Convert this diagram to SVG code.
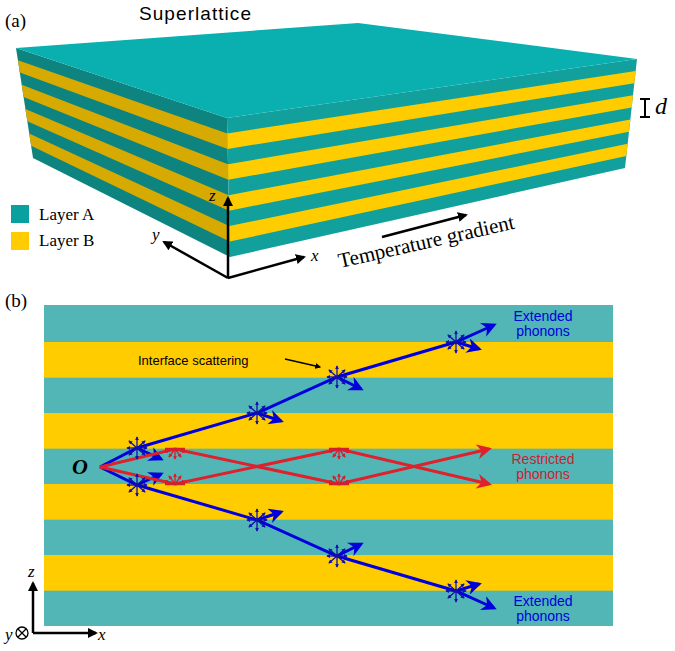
<svg xmlns="http://www.w3.org/2000/svg" width="675" height="651" viewBox="0 0 675 651">
<style>
.tm{font-family:"Liberation Serif",serif;fill:#000}
.ar{font-family:"Liberation Sans",Arial,sans-serif}
.ax{stroke:#000;stroke-width:2.5;fill:none}
.bl{stroke:#0000DD;stroke-width:3;fill:none}
.rd{stroke:#E0202A;stroke-width:3;fill:none}
.sb{stroke:#1010AA;stroke-width:1.3;marker-end:url(#sbh)}
.sr{stroke:#D02030;stroke-width:1.3;marker-end:url(#srh)}
</style>
<defs>
<marker id="ah" viewBox="0 0 10 10" refX="8" refY="5" markerWidth="4" markerHeight="4" orient="auto"><path d="M0,0L10,5L0,10z" fill="#000"/></marker>
<marker id="bh" viewBox="0 0 10 10" refX="8" refY="5" markerWidth="5" markerHeight="5" orient="auto"><path d="M0,0L10,5L0,10L3,5z" fill="#0000DD"/></marker>
<marker id="rh" viewBox="0 0 10 10" refX="8" refY="5" markerWidth="5" markerHeight="5" orient="auto"><path d="M0,0L10,5L0,10L3,5z" fill="#E0202A"/></marker>
<marker id="sbh" viewBox="0 0 10 10" refX="8" refY="5" markerWidth="3" markerHeight="3" orient="auto"><path d="M0,0L10,5L0,10z" fill="#1010AA"/></marker>
<marker id="srh" viewBox="0 0 10 10" refX="8" refY="5" markerWidth="3" markerHeight="3" orient="auto"><path d="M0,0L10,5L0,10z" fill="#D02030"/></marker>
<g id="star">
<line class="sb" x1="0" y1="0" x2="0" y2="-11"/><line class="sb" x1="0" y1="0" x2="0" y2="11"/>
<line class="sb" x1="0" y1="0" x2="-10" y2="0"/><line class="sb" x1="0" y1="0" x2="10" y2="0"/>
<line class="sb" x1="0" y1="0" x2="-8" y2="-7"/><line class="sb" x1="0" y1="0" x2="8" y2="-7"/>
<line class="sb" x1="0" y1="0" x2="-8" y2="7"/><line class="sb" x1="0" y1="0" x2="8" y2="7"/>
</g>
<g id="rdown">
<line x1="-10" y1="0" x2="10" y2="0" stroke="#D02030" stroke-width="2.5"/>
<line class="sr" x1="0" y1="0" x2="0" y2="10"/><line class="sr" x1="0" y1="0" x2="-6" y2="8"/><line class="sr" x1="0" y1="0" x2="6" y2="8"/>
<line class="sr" x1="0" y1="0" x2="-10" y2="3"/><line class="sr" x1="0" y1="0" x2="10" y2="3"/>
</g>
<g id="rup">
<line x1="-10" y1="0" x2="10" y2="0" stroke="#D02030" stroke-width="2.5"/>
<line class="sr" x1="0" y1="0" x2="0" y2="-10"/><line class="sr" x1="0" y1="0" x2="-6" y2="-8"/><line class="sr" x1="0" y1="0" x2="6" y2="-8"/>
<line class="sr" x1="0" y1="0" x2="-10" y2="-3"/><line class="sr" x1="0" y1="0" x2="10" y2="-3"/>
</g>
</defs>
<rect width="675" height="651" fill="#fff"/>
<g id="panelA">
<text class="tm" x="5" y="27" font-size="19">(a)</text>
<text class="ar" x="139" y="20" font-size="19" textLength="112">Superlattice</text>
<g id="box">
<polygon points="16,48 227,118 230,257 33,158" fill="#0E8480"/>
<polygon points="227,118 637,59 625,168 230,257" fill="#12A09C"/>
<g fill="#D6AA00">
<polygon points="17.9,60.2 227.3,133.4 227.7,148.9 19.8,72.4"/>
<polygon points="21.7,84.7 228,164.3 228.3,179.8 23.6,96.9"/>
<polygon points="25.4,109.1 228.7,195.2 229,210.7 27.3,121.3"/>
<polygon points="29.2,133.6 229.3,226.1 229.7,241.6 31.1,145.8"/>
</g>
<g fill="#FFCC00">
<polygon points="227.3,133.4 635.7,71.1 634.3,83.2 227.7,148.9"/>
<polygon points="228,164.3 633,95.3 631.7,107.4 228.3,179.8"/>
<polygon points="228.7,195.2 630.3,119.6 629,131.7 229,210.7"/>
<polygon points="229.3,226.1 627.7,143.8 626.3,155.9 229.7,241.6"/>
</g>
<polygon points="16,48 358,23 637,59 227,118" fill="#0AB0B0"/>
</g>
<g id="dmark" stroke="#000" stroke-width="2">
<line x1="645" y1="99" x2="645" y2="117"/><line x1="640" y1="99" x2="650" y2="99"/><line x1="640" y1="117" x2="650" y2="117"/>
</g>
<text class="tm" x="655" y="114" font-size="24" font-style="italic">d</text>
<g id="legend">
<rect x="11" y="205" width="18" height="18" fill="#0AA0A0"/>
<text class="tm" x="39" y="220" font-size="17">Layer A</text>
<rect x="11" y="232" width="18" height="18" fill="#FFCC00"/>
<text class="tm" x="39" y="246" font-size="17">Layer B</text>
</g>
<g id="axesA">
<line class="ax" x1="228" y1="278" x2="228" y2="198" marker-end="url(#ah)"/>
<line class="ax" x1="228" y1="278" x2="304" y2="257" marker-end="url(#ah)"/>
<line class="ax" x1="228" y1="278" x2="164" y2="242" marker-end="url(#ah)"/>
<text class="tm" x="209" y="201" font-size="17" font-style="italic">z</text>
<text class="tm" x="311" y="261" font-size="17" font-style="italic">x</text>
<text class="tm" x="152" y="240" font-size="17" font-style="italic">y</text>
</g>
<line class="ax" x1="382" y1="237" x2="466" y2="215" marker-end="url(#ah)"/>
<text class="tm" x="340" y="268" font-size="21" transform="rotate(-12.7 340 268)">Temperature gradient</text>
</g>
<g id="panelB">
<text class="tm" x="5" y="307" font-size="19">(b)</text>
<g id="stripes">
<rect x="44" y="305" width="569" height="321" fill="#52B6B6"/>
<g fill="#FFCC00">
<rect x="44" y="342" width="569" height="35.7"/>
<rect x="44" y="413" width="569" height="35.7"/>
<rect x="44" y="484" width="569" height="35.7"/>
<rect x="44" y="555" width="569" height="35.7"/>
</g>
</g>
<g id="connectors">
<polyline class="bl" points="100,467 137,448 257,413 337,377 456,342 494,325" marker-end="url(#bh)"/>
<polyline class="bl" points="100,467 137,485 257,520 337,556 456,591 494,608" marker-end="url(#bh)"/>
<line class="bl" stroke-width="2.5" x1="137" y1="448" x2="161" y2="459" marker-end="url(#bh)"/>
<line class="bl" stroke-width="2.5" x1="257" y1="413" x2="281" y2="421" marker-end="url(#bh)"/>
<line class="bl" stroke-width="2.5" x1="337" y1="377" x2="361" y2="389" marker-end="url(#bh)"/>
<line class="bl" stroke-width="2.5" x1="456" y1="342" x2="479" y2="349" marker-end="url(#bh)"/>
<line class="bl" stroke-width="2.5" x1="137" y1="485" x2="161" y2="474" marker-end="url(#bh)"/>
<line class="bl" stroke-width="2.5" x1="257" y1="520" x2="281" y2="512" marker-end="url(#bh)"/>
<line class="bl" stroke-width="2.5" x1="337" y1="556" x2="361" y2="544" marker-end="url(#bh)"/>
<line class="bl" stroke-width="2.5" x1="456" y1="591" x2="479" y2="584" marker-end="url(#bh)"/>
<polyline class="rd" points="100,467 175,449 339,484 489,449" marker-end="url(#rh)"/>
<polyline class="rd" points="100,467 175,484 339,449 489,484" marker-end="url(#rh)"/>
<line x1="285" y1="359" x2="320" y2="367" stroke="#000" stroke-width="1.5" marker-end="url(#ah)"/>
</g>
<g id="scatter">
<use href="#star" x="137" y="448"/><use href="#star" x="257" y="413"/><use href="#star" x="337" y="377"/><use href="#star" x="456" y="342"/>
<use href="#star" x="137" y="485"/><use href="#star" x="257" y="520"/><use href="#star" x="337" y="556"/><use href="#star" x="456" y="591"/>
<use href="#rdown" x="175" y="449"/><use href="#rdown" x="339" y="449"/>
<use href="#rup" x="175" y="484"/><use href="#rup" x="339" y="484"/>
</g>
<text class="tm" x="72" y="474" font-size="22" font-weight="bold" font-style="italic">O</text>
<text class="ar" x="138" y="365" font-size="13">Interface scattering</text>
<g class="ar" font-size="14" text-anchor="middle" fill="#0000DD">
<text x="543" y="321">Extended</text><text x="543" y="336">phonons</text>
<text x="543" y="606">Extended</text><text x="543" y="621">phonons</text>
</g>
<g class="ar" font-size="14" text-anchor="middle" fill="#D02030">
<text x="543" y="464">Restricted</text><text x="543" y="479">phonons</text>
</g>
<g id="axesB">
<line class="ax" x1="33" y1="633" x2="33" y2="583" marker-end="url(#ah)"/>
<line class="ax" x1="33" y1="633" x2="96" y2="633" marker-end="url(#ah)"/>
<circle cx="22" cy="633" r="6" fill="#fff" stroke="#000" stroke-width="1.3"/>
<path d="M18,629L26,637M26,629L18,637" stroke="#000" stroke-width="1.3"/>
<text class="tm" x="28" y="577" font-size="17" font-style="italic">z</text>
<text class="tm" x="98" y="640" font-size="17" font-style="italic">x</text>
<text class="tm" x="5" y="640" font-size="17" font-style="italic">y</text>
</g>
</g>
</svg>
